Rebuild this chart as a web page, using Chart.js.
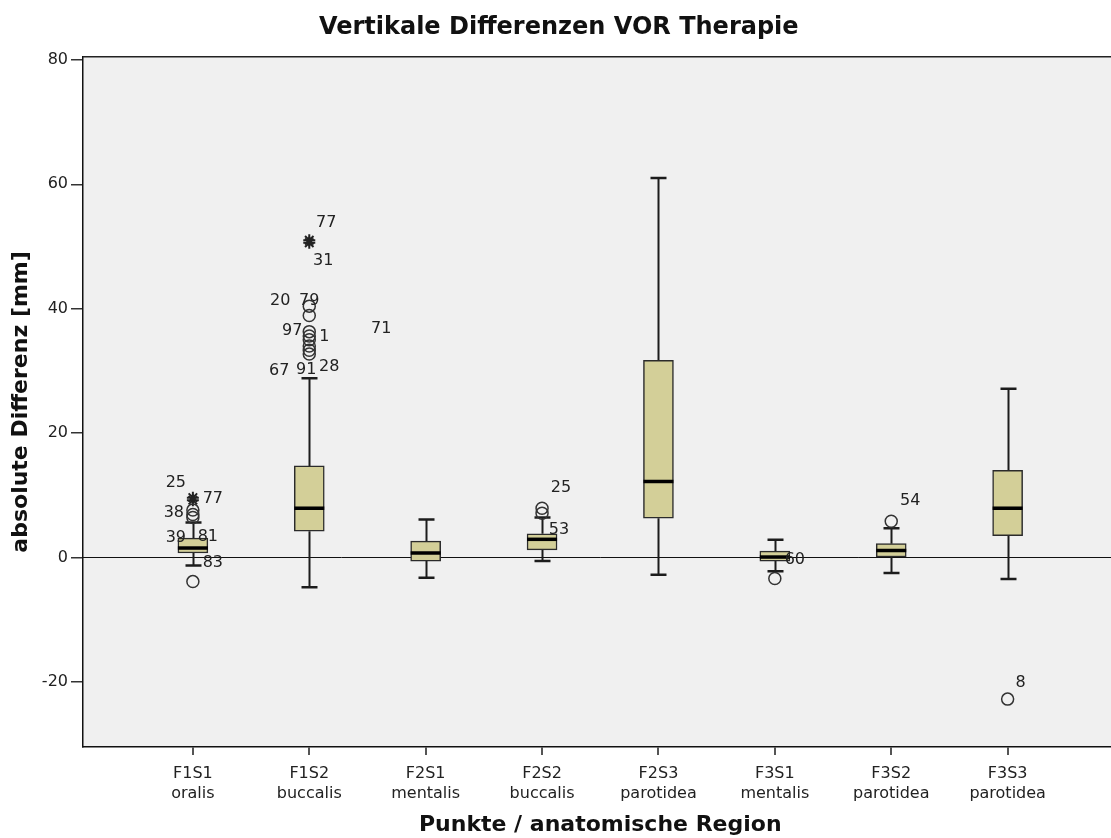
<!DOCTYPE html>
<html>
<head>
<meta charset="utf-8">
<script src="https://cdn.jsdelivr.net/npm/chart.js@4/dist/chart.umd.min.js"></script>
<style>
  html, body { margin: 0; padding: 0; background: #ffffff; overflow: hidden; }
  #wrap { width: 1128px; height: 838px; }
</style>
</head>
<body>
<div id="wrap"><canvas id="c" width="1128" height="838"></canvas></div>
<script>
// Measuring points and their anatomical regions
const pointCodes = ['F1S1', 'F1S2', 'F2S1', 'F2S2', 'F2S3', 'F3S1', 'F3S2', 'F3S3'];
const regions = ['oralis', 'buccalis', 'mentalis', 'buccalis', 'parotidea', 'mentalis', 'parotidea', 'parotidea'];

// Box plot summary per measuring point (mm)
const whiskerLow  = [-1.3, -4.8, -3.3, -0.6, -2.8, -2.25, -2.5, -3.5];
const q1          = [ 0.7,  4.2, -0.6,  1.2,  6.3, -0.6,   0.05, 3.5];
const median      = [ 1.5,  7.9,  0.7,  2.9, 12.2,  0.05,  1.1,  7.9];
const q3          = [ 3.1, 14.7,  2.6,  3.8, 31.7,  1.0,   2.2, 14.0];
const whiskerHigh = [ 5.6, 28.8,  6.1,  6.4, 61.0,  2.85,  4.7, 27.1];

// Outliers: measuring point index, value, case number, extreme (star) or not (circle)
const outlierGroup   = [0, 0, 0, 0, 0, 0,  1, 1, 1, 1, 1, 1, 1, 1, 1, 1,  3, 3,  5,  6,  7];
const outlierValue   = [9.6, 9.2, 7.6, 6.9, 6.4, -3.9,
                        51.0, 50.6, 40.4, 38.9, 36.3, 35.6, 35.0, 34.0, 33.3, 32.7,
                        7.9, 7.1, -3.4, 5.8, -22.8];
const outlierCase    = ['25', '77', '38', '39', '81', '83',
                        '77', '31', '20', '79', '97', '1', '71', '67', '91', '28',
                        '25', '53', '60', '54', '8'];
const outlierExtreme = [true, true, false, false, false, false,
                        true, true, false, false, false, false, false, false, false, false,
                        false, false, false, false, false];

const yTicks = [-20, 0, 20, 40, 60, 80];

// Placement of the case-number labels next to their markers (pixel offsets)
const caseLabelOffset = [
  [-17, -15], [20, -1], [-19, 3], [-17, 23], [15, 19], [20, -19],
  [17, -17], [14, 18], [-29, -5], [0, -15], [-17, -1], [15, 1], [72, -11], [-30, 25], [-3, 20], [20, 13],
  [19, -20], [17, 17], [20, -19], [19, -20], [13, -16]
];

const FONT = 'DejaVu Sans';
const BOX_WIDTH = 30;
const CAP_WIDTH = 16;

const circleIdx = outlierValue.map((_, i) => i).filter(i => !outlierExtreme[i]);
const starIdx = outlierValue.map((_, i) => i).filter(i => outlierExtreme[i]);

const plotBackground = {
  id: 'plotBackground',
  beforeDraw(chart) {
    const { ctx, chartArea: a } = chart;
    ctx.save();
    ctx.fillStyle = '#f0f0f0';
    ctx.fillRect(a.left, a.top, a.right - a.left, a.bottom - a.top);
    ctx.restore();
  }
};

const boxParts = {
  id: 'boxParts',
  beforeDatasetsDraw(chart) {
    const { ctx, chartArea: a, scales: { x, y } } = chart;
    ctx.save();
    // reference line at zero, underneath the boxes
    const y0 = Math.round(y.getPixelForValue(0)) + 0.5;
    ctx.lineWidth = 1;
    ctx.strokeStyle = '#111';
    ctx.beginPath();
    ctx.moveTo(a.left, y0);
    ctx.lineTo(a.right, y0);
    ctx.stroke();
    // whiskers and caps
    ctx.strokeStyle = '#1c1c1c';
    pointCodes.forEach((_, i) => {
      const cx = Math.round(x.getPixelForValue(i)) + 0.5;
      const yLo = y.getPixelForValue(whiskerLow[i]);
      const yQ1 = y.getPixelForValue(q1[i]);
      const yQ3 = y.getPixelForValue(q3[i]);
      const yHi = y.getPixelForValue(whiskerHigh[i]);
      ctx.lineWidth = 2;
      ctx.beginPath();
      ctx.moveTo(cx, yQ3); ctx.lineTo(cx, yHi);
      ctx.moveTo(cx, yQ1); ctx.lineTo(cx, yLo);
      ctx.stroke();
      ctx.lineWidth = 2.5;
      ctx.beginPath();
      ctx.moveTo(cx - CAP_WIDTH / 2, yHi); ctx.lineTo(cx + CAP_WIDTH / 2, yHi);
      ctx.moveTo(cx - CAP_WIDTH / 2, yLo); ctx.lineTo(cx + CAP_WIDTH / 2, yLo);
      ctx.stroke();
    });
    ctx.restore();
  },
  afterDatasetsDraw(chart) {
    const { ctx, chartArea: a, scales: { x, y } } = chart;
    ctx.save();
    // medians
    ctx.strokeStyle = '#000';
    ctx.lineWidth = 3.5;
    pointCodes.forEach((_, i) => {
      const cx = x.getPixelForValue(i);
      const ym = y.getPixelForValue(median[i]);
      ctx.beginPath();
      ctx.moveTo(cx - BOX_WIDTH / 2, ym);
      ctx.lineTo(cx + BOX_WIDTH / 2, ym);
      ctx.stroke();
    });
    // case numbers of the outliers
    ctx.font = '16px "' + FONT + '"';
    ctx.fillStyle = '#222';
    ctx.textAlign = 'center';
    ctx.textBaseline = 'middle';
    outlierCase.forEach((txt, i) => {
      const px = x.getPixelForValue(outlierGroup[i]);
      const py = y.getPixelForValue(outlierValue[i]);
      ctx.fillText(txt, px + caseLabelOffset[i][0], py + caseLabelOffset[i][1]);
    });
    // frame top and right
    ctx.lineWidth = 1.5;
    ctx.strokeStyle = '#222';
    ctx.beginPath();
    ctx.moveTo(a.left, a.top);
    ctx.lineTo(a.right, a.top);
    ctx.lineTo(a.right, a.bottom);
    ctx.stroke();
    ctx.restore();
  }
};

new Chart(document.getElementById('c'), {
  type: 'bar',
  data: {
    datasets: [
      {
        label: 'Box',
        data: pointCodes.map((_, i) => ({ x: i, y: [q1[i], q3[i]] })),
        backgroundColor: '#d3cf98',
        borderColor: '#2b2b2b',
        borderWidth: 1.5,
        borderSkipped: false,
        barThickness: BOX_WIDTH,
        order: 3
      },
      {
        type: 'scatter',
        label: 'Ausreißer',
        data: circleIdx.map(i => ({ x: outlierGroup[i], y: outlierValue[i] })),
        pointStyle: 'circle',
        pointRadius: 6,
        backgroundColor: 'rgba(0,0,0,0)',
        borderColor: '#333',
        borderWidth: 1.5,
        order: 1
      },
      {
        type: 'scatter',
        label: 'Extremwerte',
        data: starIdx.map(i => ({ x: outlierGroup[i], y: outlierValue[i] })),
        pointStyle: 'star',
        pointRadius: 6,
        backgroundColor: '#222',
        borderColor: '#222',
        borderWidth: 2,
        order: 1
      }
    ]
  },
  options: {
    responsive: false,
    animation: false,
    events: [],
    layout: { padding: { top: 0, right: 10.5, bottom: 0, left: 0 } },
    plugins: {
      legend: { display: false },
      tooltip: { enabled: false },
      title: {
        display: true,
        text: 'Vertikale Differenzen VOR Therapie',
        color: '#111',
        font: { family: FONT, size: 24, weight: 'bold' },
        padding: { top: 13, bottom: 15 }
      }
    },
    scales: {
      x: {
        type: 'linear',
        offset: false,
        min: -0.944,
        max: 7.944,
        afterBuildTicks(scale) { scale.ticks = pointCodes.map((_, i) => ({ value: i })); },
        afterFit(scale) { scale.height = 91; },
        ticks: {
          callback: v => [pointCodes[v], regions[v]],
          color: '#222',
          font: { family: FONT, size: 16, lineHeight: 1.25 },
          maxRotation: 0,
          autoSkip: false,
          padding: 9
        },
        grid: { offset: false, drawOnChartArea: false, drawTicks: true, tickLength: 8, color: '#555', lineWidth: 2 },
        border: { display: true, color: '#111', width: 1.5 },
        title: {
          display: true,
          text: 'Punkte / anatomische Region',
          color: '#111',
          font: { family: FONT, size: 22, weight: 'bold' },
          padding: { top: 0, bottom: 0 }
        }
      },
      y: {
        type: 'linear',
        min: -30.5,
        max: 80.5,
        afterBuildTicks(scale) { scale.ticks = yTicks.map(v => ({ value: v })); },
        afterFit(scale) { scale.width = 83; },
        ticks: {
          color: '#222',
          font: { family: FONT, size: 16 },
          padding: 3
        },
        grid: { drawOnChartArea: false, drawTicks: true, tickLength: 12, color: '#333', lineWidth: 1.5 },
        border: { display: true, color: '#111', width: 1.5 },
        title: {
          display: true,
          text: 'absolute Differenz [mm]',
          color: '#111',
          font: { family: FONT, size: 22, weight: 'bold' },
          padding: { top: 8, bottom: 0 }
        }
      }
    }
  },
  plugins: [plotBackground, boxParts]
});
</script>
</body>
</html>
